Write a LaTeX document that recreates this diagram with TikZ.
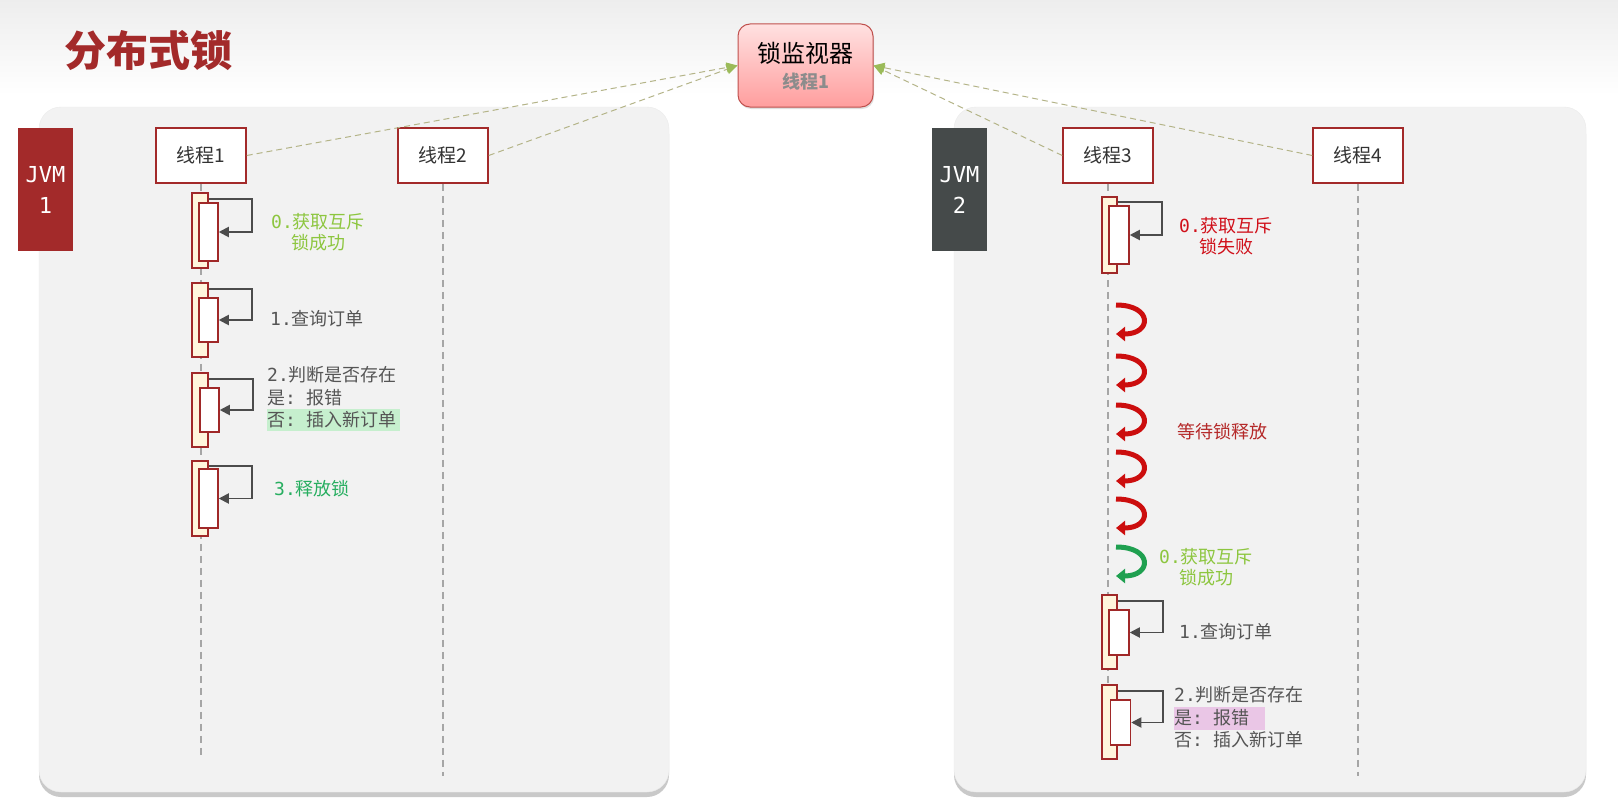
\documentclass[tikz,border=0pt]{standalone}
\usepackage{fontspec}
\setmainfont{Noto Sans CJK SC}
\newfontfamily\mono{DejaVu Sans Mono}
\usetikzlibrary{arrows.meta,shadows}
\definecolor{dred}{HTML}{A32A2A}
\definecolor{bardred}{HTML}{A02828}
\definecolor{barfill}{HTML}{FFF5DC}
\definecolor{panelfill}{HTML}{F2F2F2}
\definecolor{txtgray}{HTML}{555555}
\definecolor{lgreen}{HTML}{8DC63F}
\definecolor{teal}{HTML}{27AE60}
\definecolor{fred}{HTML}{D0101A}
\definecolor{waitred}{HTML}{B52A2A}
\definecolor{hlgreen}{HTML}{C6EFCE}
\definecolor{hlpink}{HTML}{EAC6E6}
\definecolor{curlred}{HTML}{CC0E0E}
\definecolor{curlgreen}{HTML}{1FA050}
\definecolor{connline}{HTML}{B4B488}
\definecolor{connhead}{HTML}{9BBB59}
\definecolor{jvmgray}{HTML}{454A4A}
\definecolor{monborder}{HTML}{C0504D}
\begin{document}
\begin{tikzpicture}[x=1pt,y=-1pt,
  panel/.style={fill=panelfill, draw=black!8, rounded corners=22pt,
    drop shadow={shadow xshift=0pt, shadow yshift=-5pt, opacity=.35, fill=black!60}},
  thread/.style={draw=dred, line width=1.5pt, fill=white, minimum width=90pt,
    minimum height=55pt, inner sep=0pt, font=\fontsize{19}{22}\selectfont, text=black!80},
  jvm/.style={minimum width=55pt, minimum height=123pt, inner sep=0pt, align=center,
    text=white, font=\mono\fontsize{22}{31}\selectfont},
  life/.style={draw=black!35, line width=1.2pt, dash pattern=on 7pt off 5pt},
  obar/.style={draw=bardred, line width=1.5pt, fill=barfill, minimum width=16pt, inner sep=0pt},
  ibar/.style={draw=bardred, line width=1.5pt, fill=white, minimum width=19pt, inner sep=0pt},
  selfarr/.style={draw=black!70, line width=1.8pt, -{Triangle[length=10pt,width=10pt]}},
  txt/.style={inner sep=0pt, font=\fontsize{18}{21}\selectfont},
  conn/.style={draw=connline, line width=1pt, dash pattern=on 6pt off 4pt,
    -{Triangle[length=11pt,width=10pt,color=connhead,fill=connhead]}},
  curl/.style={line width=5pt, -{Triangle[length=9pt,width=14pt]}},
]
\useasboundingbox (0,0) rectangle (1618,808);
% background
\fill[white] (0,0) rectangle (1618,808);
\shade[top color=black!7, bottom color=white] (0,0) rectangle (1618,95);

% title
\node[inner sep=0pt, text=dred, font=\fontsize{42}{46}\selectfont\bfseries] (title) at (148,51) {分布式锁};

% panels
\path[panel] (39,107) rectangle (669,792);
\path[panel] (954,107) rectangle (1586,792);

% JVM boxes
\node[jvm, fill=dred] (jvm1) at (45.5,189.5) {JVM\\1};
\node[jvm, fill=jvmgray] (jvm2) at (959.5,189.5) {JVM\\2};

% monitor
\node[draw=monborder, line width=1pt, rounded corners=12pt, top color=red!12, bottom color=red!38,
  minimum width=135pt, minimum height=83pt, inner sep=0pt,
  drop shadow={shadow xshift=1pt, shadow yshift=-2pt, opacity=.25}] (mon) at (805.5,65.5) {};
\node[inner sep=0pt, font=\fontsize{24}{26}\selectfont] (montitle) at (805.5,53) {锁监视器};
\node[inner sep=0pt, text=black!45, font=\fontsize{18}{20}\selectfont\bfseries] (monsub) at (805.5,82) {线程1};

% threads
\node[thread] (t1) at (201,155.5) {线程1};
\node[thread] (t2) at (443,155.5) {线程2};
\node[thread] (t3) at (1108,155.5) {线程3};
\node[thread] (t4) at (1358,155.5) {线程4};

% connectors to monitor
\draw[conn] (t1.east) -- (mon.west);
\draw[conn] (t2.east) -- (mon.west);
\draw[conn] (t3.west) -- (mon.east);
\draw[conn] (t4.west) -- (mon.east);

% lifelines
\coordinate (e1) at (201,756);
\coordinate (e2) at (443,776);
\coordinate (e3) at (1108,759);
\coordinate (e4) at (1358,776);
\draw[life] (t1.south) -- (e1);
\draw[life] (t2.south) -- (e2);
\draw[life] (t3.south) -- (e3);
\draw[life] (t4.south) -- (e4);

% left activation bars
\node[obar, minimum height=75pt] (a1o) at (200,230.5) {};
\node[ibar, minimum height=58pt] (a1i) at (208.5,232) {};
\draw[selfarr] ([yshift=-7pt]a1o.north east) -- ++(43,0) |- (a1i.east);

\node[obar, minimum height=74pt] (a2o) at (200,320) {};
\node[ibar, minimum height=44pt] (a2i) at (208.5,320) {};
\draw[selfarr] ([yshift=-7pt]a2o.north east) -- ++(43,0) |- (a2i.east);

\node[obar, minimum height=74pt] (a3o) at (200,410) {};
\node[ibar, minimum height=44pt] (a3i) at (209.5,410) {};
\draw[selfarr] ([yshift=-7pt]a3o.north east) -- ++(44,0) |- (a3i.east);

\node[obar, minimum height=75pt] (a4o) at (200,498.5) {};
\node[ibar, minimum height=59pt] (a4i) at (208.5,498.5) {};
\draw[selfarr] ([yshift=-6pt]a4o.north east) -- ++(43,0) |- (a4i.east);

% left texts
\node[txt, text=lgreen, align=center] (l1) at (318,232) {{\mono 0.}获取互斥\\锁成功};
\node[txt, text=txtgray, anchor=west] (l2) at (270,319) {{\mono 1.}查询订单};
\fill[hlgreen] (267,409) rectangle (400,431);
\node[txt, text=txtgray, anchor=west] (l3a) at (267,375) {{\mono 2.}判断是否存在};
\node[txt, text=txtgray, anchor=west] (l3b) at (267,397.5) {是{\mono:\ }报错};
\node[txt, text=txtgray, anchor=west] (l3c) at (267,420) {否{\mono:\ }插入新订单};
\node[txt, text=teal, anchor=west] (l4) at (274,489) {{\mono 3.}释放锁};

% right activation bars
\node[obar, minimum width=15pt, minimum height=76pt] (b1o) at (1109.5,235) {};
\node[ibar, minimum width=20pt, minimum height=58pt] (b1i) at (1119,235) {};
\draw[selfarr] ([yshift=-6pt]b1o.north east) -- ++(44,0) |- (b1i.east);

\node[obar, minimum width=15pt, minimum height=74pt] (b2o) at (1109.5,632) {};
\node[ibar, minimum width=20pt, minimum height=45pt] (b2i) at (1119,632.5) {};
\draw[selfarr] ([yshift=-7pt]b2o.north east) -- ++(45,0) |- (b2i.east);

\node[obar, minimum width=15pt, minimum height=74pt] (b3o) at (1109.5,722) {};
\node[ibar, minimum width=20pt, minimum height=45pt] (b3i) at (1120.5,722.5) {};
\draw[selfarr] ([yshift=-7pt]b3o.north east) -- ++(45,0) |- (b3i.east);

% right texts
\node[txt, text=fred, align=center] (r1) at (1226,236.5) {{\mono 0.}获取互斥\\锁失败};
\node[txt, text=waitred] (rw) at (1222,432) {等待锁释放};
\node[txt, text=lgreen, align=center] (rg) at (1206,567.5) {{\mono 0.}获取互斥\\锁成功};
\node[txt, text=txtgray, anchor=west] (r2) at (1179,632) {{\mono 1.}查询订单};
\fill[hlpink] (1174,707) rectangle (1265,730);
\node[txt, text=txtgray, anchor=west] (r3a) at (1174,695) {{\mono 2.}判断是否存在};
\node[txt, text=txtgray, anchor=west] (r3b) at (1174,718) {是{\mono:\ }报错};
\node[txt, text=txtgray, anchor=west] (r3c) at (1174,740) {否{\mono:\ }插入新订单};

% waiting curls
\foreach \y in {302,353,402,449,496} {
  \draw[curl, draw=curlred] (1116,\y+3) .. controls (1153,\y+3) and (1152,\y+32) .. (1116,\y+32);
}
\draw[curl, draw=curlgreen] (1116,547) .. controls (1153,547) and (1152,576) .. (1116,576);
\end{tikzpicture}
\end{document}
